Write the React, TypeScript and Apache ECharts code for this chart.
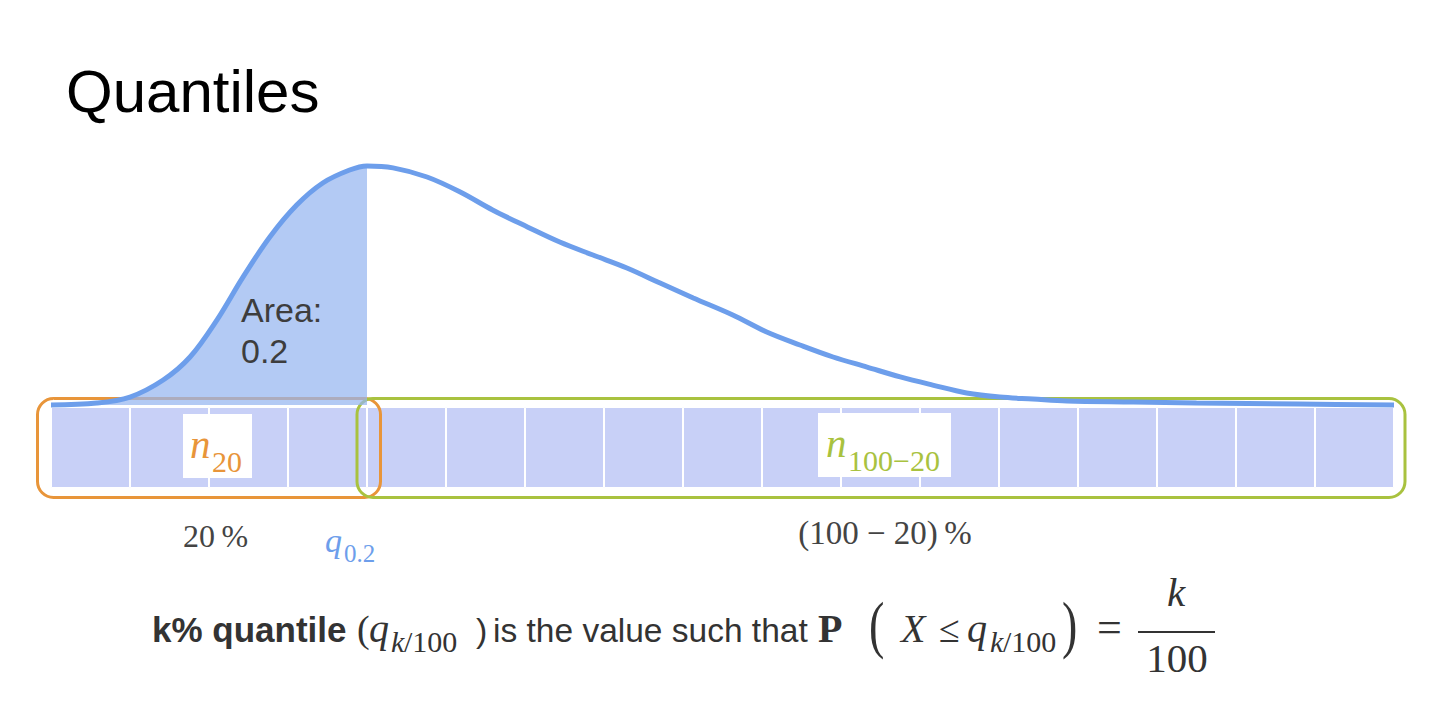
import React, { useEffect, useRef } from "react";
import * as echarts from "echarts";

// Density curve (x in cell units 0..17, y normalized density)
const CURVE_X = [0, 0.58, 1.0, 1.42, 1.76, 2.1, 2.43, 2.77, 3.11, 3.44, 3.78, 4.0, 4.33, 4.76, 5.18, 5.59, 6.03, 6.44, 6.86, 7.29, 7.71, 8.13, 8.63, 9.06, 9.48, 9.9, 10.33, 10.75, 11.16, 11.59, 12.01, 12.43, 12.86, 13.7, 14.5, 15.8, 17];
const CURVE_Y = [0, 0.008, 0.033, 0.104, 0.2, 0.354, 0.533, 0.7, 0.833, 0.925, 0.979, 0.996, 0.988, 0.95, 0.8875, 0.8125, 0.742, 0.679, 0.625, 0.571, 0.508, 0.446, 0.375, 0.304, 0.25, 0.2, 0.158, 0.117, 0.083, 0.05, 0.033, 0.025, 0.017, 0.0125, 0.008, 0.004, 0];
const Q_VALUE = 4.0; // q_0.2 position
const CELL_LABELS = ["1", "2", "3", "4", "5", "6", "7", "8", "9", "10", "11", "12", "13", "14", "15", "16", "17"];
const CELL_VALUES = [1, 1, 1, 1, 1, 1, 1, 1, 1, 1, 1, 1, 1, 1, 1, 1, 1];

const SANS = "'Liberation Sans', Arial, Helvetica, sans-serif";
const SERIF = "'Liberation Serif', 'Times New Roman', serif";
const BLUE = "#6D9EEB";
const ORANGE = "#E8953A";
const GREEN = "#A9C23F";
const GRAY = "#333333";

function txt(x: number, baseline: number, text: string, size: number, opts: any = {}) {
  const { family = SANS, weight = "normal", style = "normal", fill = GRAY, align = "left", scaleY = 1, y } = opts;
  const k = family === SERIF ? 0.3375 : 0.3465;
  return {
    type: "text",
    x,
    y: y !== undefined ? y : baseline - k * size * scaleY,
    scaleY,
    z: 10,
    style: {
      text,
      fontSize: size,
      fontFamily: family,
      fontWeight: weight,
      fontStyle: style,
      fill,
      align,
      verticalAlign: "middle",
    },
  };
}

export default function App() {
  const ref = useRef<HTMLDivElement>(null);
  useEffect(() => {
    if (!ref.current) return;
    const chart = echarts.init(ref.current, null, { renderer: "svg" });
    const curve = CURVE_X.map((x, i) => [x, CURVE_Y[i]]);
    const filled = curve.filter((p) => p[0] <= Q_VALUE);

    const graphic: any[] = [
      // boxes
      {
        type: "rect", z: 2,
        shape: { x: 37.5, y: 398.5, width: 343, height: 99, r: 16 },
        style: { fill: "none", stroke: ORANGE, lineWidth: 3 },
      },
      {
        type: "rect", z: 2,
        shape: { x: 357, y: 398.5, width: 1048, height: 99, r: 16 },
        style: { fill: "none", stroke: GREEN, lineWidth: 3 },
      },
      // label backgrounds
      { type: "rect", z: 8, shape: { x: 183, y: 414, width: 69, height: 64 }, style: { fill: "#fff" } },
      { type: "rect", z: 8, shape: { x: 818, y: 413, width: 133, height: 64 }, style: { fill: "#fff" } },
      txt(190, 458, "n", 41, { family: SERIF, style: "italic", fill: ORANGE }),
      txt(212, 472, "20", 30, { family: SERIF, fill: ORANGE }),
      txt(826, 457, "n", 41, { family: SERIF, style: "italic", fill: GREEN }),
      txt(848, 471, "100\u221220", 30, { family: SERIF, fill: GREEN }),
      // title
      txt(66, 112, "Quantiles", 60, { fill: "#000" }),
      // area label
      txt(241, 322, "Area:", 34, { fill: "#3d3d3d" }),
      txt(241, 363, "0.2", 34, { fill: "#3d3d3d" }),
      // under-strip labels
      txt(183, 547, "20\u2009%", 32, { family: SERIF, fill: "#444" }),
      txt(325, 552, "q", 34, { family: SERIF, style: "italic", fill: BLUE }),
      txt(344, 562, "0.2", 25, { family: SERIF, fill: BLUE }),
      txt(885, 544, "(100 \u2212 20)\u2009%", 33, { family: SERIF, fill: "#444", align: "center" }),
      // bottom formula
      txt(152, 642, "k% quantile", 35, { weight: "bold" }),
      txt(357, 642, "(", 38, { family: SERIF }),
      txt(369, 642, "q", 40, { family: SERIF, style: "italic" }),
      txt(391, 652, "k", 30, { family: SERIF, style: "italic" }),
      txt(404, 652, "/100", 30, { family: SERIF }),
      txt(476, 642, ")", 34),
      txt(493, 642, "is the value such that", 33.5),
      txt(818, 642, "P", 40, { family: SERIF, weight: "bold" }),
      txt(869, 0, "(", 46, { family: SERIF, scaleY: 1.4, y: 624 }),
      txt(901, 642, "X", 40, { family: SERIF, style: "italic" }),
      txt(939, 642, "\u2264", 38, { family: SERIF }),
      txt(967, 642, "q", 40, { family: SERIF, style: "italic" }),
      txt(990, 652, "k", 30, { family: SERIF, style: "italic" }),
      txt(1003, 652, "/100", 30, { family: SERIF }),
      txt(1062, 0, ")", 46, { family: SERIF, scaleY: 1.4, y: 624 }),
      txt(1097, 642, "=", 44, { family: SERIF }),
      txt(1176, 606, "k", 41, { family: SERIF, style: "italic", align: "center" }),
      {
        type: "line", z: 10,
        shape: { x1: 1138, y1: 632, x2: 1215, y2: 632 },
        style: { stroke: GRAY, lineWidth: 2 },
      },
      txt(1177, 672, "100", 41, { family: SERIF, align: "center" }),
    ];

    chart.setOption({
      animation: false,
      backgroundColor: "#ffffff",
      grid: [
        { left: 51, right: 46, top: 165, bottom: 308 },
        { left: 51, right: 46, top: 407, height: 81 },
      ],
      xAxis: [
        { type: "value", gridIndex: 0, min: 0, max: 17, show: false },
        { type: "category", gridIndex: 1, data: CELL_LABELS, show: false },
      ],
      yAxis: [
        { type: "value", gridIndex: 0, min: 0, max: 1, show: false },
        { type: "value", gridIndex: 1, min: 0, max: 1, show: false },
      ],
      series: [
        {
          type: "bar",
          xAxisIndex: 1,
          yAxisIndex: 1,
          data: CELL_VALUES,
          barCategoryGap: "0%",
          z: 1,
          itemStyle: { color: "#C8D0F7", borderColor: "#ffffff", borderWidth: 1 },
          silent: true,
        },
        {
          type: "line",
          xAxisIndex: 0,
          yAxisIndex: 0,
          data: filled,
          smooth: 0.35,
          symbol: "none",
          z: 3,
          lineStyle: { width: 0 },
          areaStyle: { color: "rgba(150,182,240,0.72)", opacity: 1 },
          silent: true,
        },
        {
          type: "line",
          xAxisIndex: 0,
          yAxisIndex: 0,
          data: curve,
          smooth: 0.35,
          symbol: "none",
          clip: false,
          z: 4,
          lineStyle: { width: 5, color: BLUE },
          silent: true,
        },
      ],
      graphic,
    });
    return () => chart.dispose();
  }, []);

  return (
    <div
      ref={ref}
      style={{ position: "fixed", left: 0, top: 0, width: 1440, height: 713, background: "#fff" }}
    />
  );
}
